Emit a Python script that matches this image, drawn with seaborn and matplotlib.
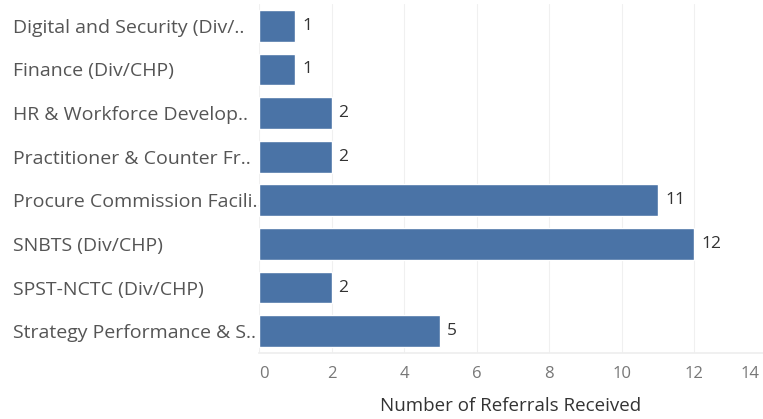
import matplotlib
matplotlib.use("Agg")
import matplotlib.pyplot as plt
import matplotlib.transforms as mtransforms
import seaborn as sns
import pandas as pd

categories = [
    "Digital and Security (Div/..",
    "Finance (Div/CHP)",
    "HR & Workforce Develop..",
    "Practitioner & Counter Fr..",
    "Procure Commission Facili..",
    "SNBTS (Div/CHP)",
    "SPST-NCTC (Div/CHP)",
    "Strategy Performance & S..",
]
referrals = [1, 1, 2, 2, 11, 12, 2, 5]
x_ticks = [0, 2, 4, 6, 8, 10, 12, 14]

df = pd.DataFrame({"Division": categories, "Referrals": referrals})

sns.set_theme(style="white")
plt.rcParams["font.family"] = ["Open Sans", "DejaVu Sans"]

fig = plt.figure(figsize=(7.63, 4.19), dpi=100)
ax = fig.add_axes([259 / 763, 1 - 353 / 419, 508 / 763, 349 / 419])

sns.barplot(data=df, x="Referrals", y="Division", orient="h",
            color="#4a73a6", saturation=1, width=0.73, ax=ax)

ax.set_xlim(0, 14)
ax.set_xticks(x_ticks)
ax.set_xticklabels([str(t) for t in x_ticks])
ax.xaxis.grid(True, color="#f0f0f0", linewidth=0.8)
ax.set_axisbelow(True)
for s in ["top", "right", "left"]:
    ax.spines[s].set_visible(False)
ax.spines["bottom"].set_color("#eeeeee")

ax.tick_params(axis="x", length=0, pad=9, labelsize=12, labelcolor="#777777")
ax.tick_params(axis="y", length=0, pad=177, labelsize=14, labelcolor="#555555")
for lbl in ax.get_yticklabels():
    lbl.set_ha("left")

# keep the end tick labels inside the plotting band
xlabels = ax.get_xticklabels()
xlabels[0].set_transform(xlabels[0].get_transform() +
                         mtransforms.ScaledTranslation(5 / 100, 0, fig.dpi_scale_trans))
xlabels[-1].set_transform(xlabels[-1].get_transform() +
                          mtransforms.ScaledTranslation(-17 / 100, 0, fig.dpi_scale_trans))

ax.set_ylabel("")
ax.set_xlabel("Number of Referrals Received", fontsize=13.5, color="#333333")
ax.xaxis.set_label_coords((511 - 259) / 508, -(397 - 353) / 349)

for i, v in enumerate(referrals):
    ax.annotate(str(v), (v, i), xytext=(5, 0), textcoords="offset points",
                va="center", ha="left", fontsize=12.5, color="#333333")

fig.savefig("out.png", dpi=100)
